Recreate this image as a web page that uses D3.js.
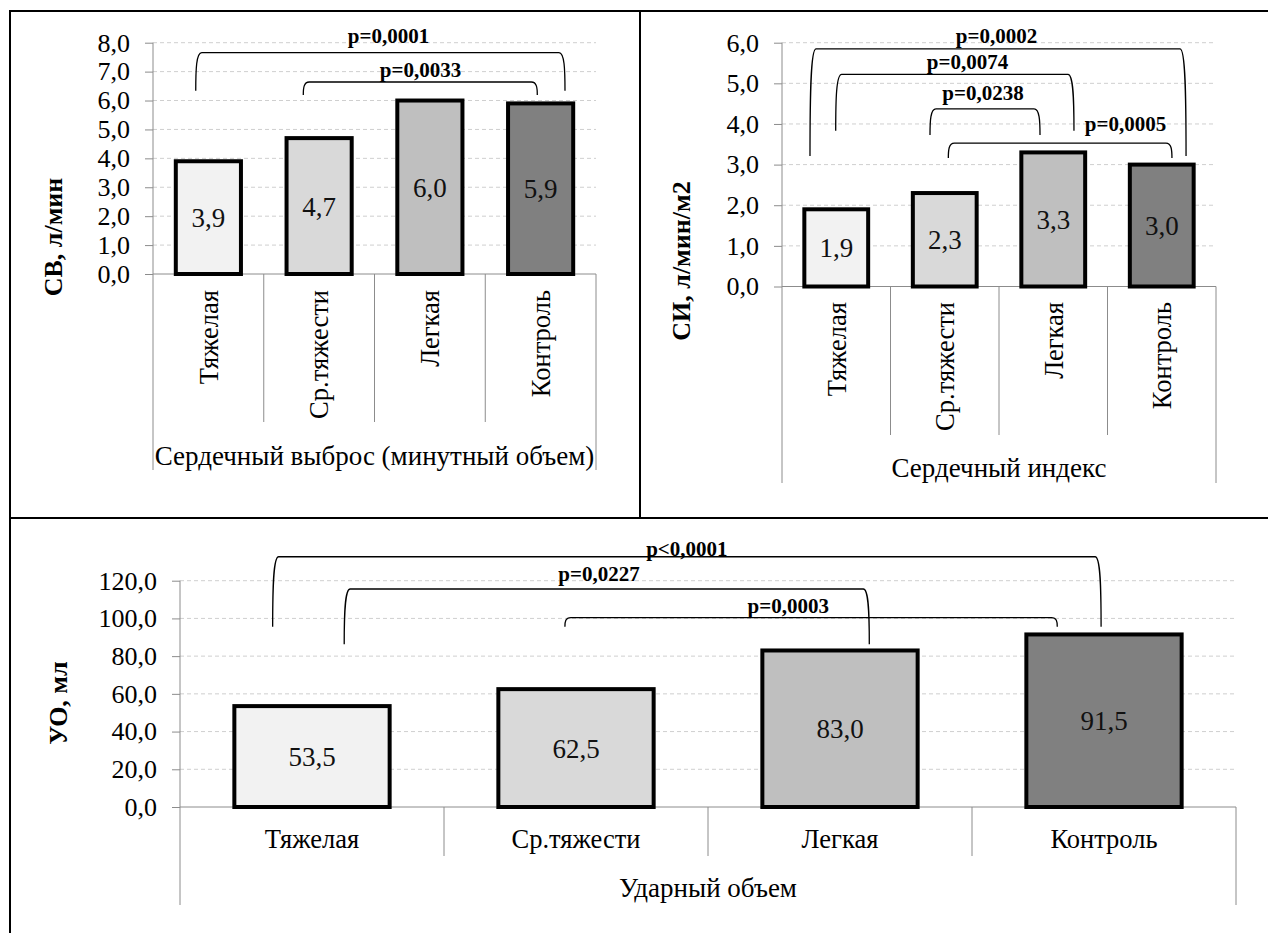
<!DOCTYPE html>
<html>
<head>
<meta charset="utf-8">
<script src="https://cdn.jsdelivr.net/npm/d3@7/dist/d3.min.js"></script>
<style>
  body { margin: 0; background: #fff; }
  svg text { font-family: 'Liberation Serif', 'DejaVu Serif', serif; }
</style>
</head>
<body>
<div id="chart"></div>
<script>
// Group labels (same for the three panels)
const categories = ['Тяжелая', 'Ср.тяжести', 'Легкая', 'Контроль'];
const barColors = ['#f2f2f2', '#d9d9d9', '#bfbfbf', '#808080'];

// Panel values
const cvValues = [3.9, 4.7, 6.0, 5.9];      // СВ, л/мин
const ciValues = [1.9, 2.3, 3.3, 3.0];      // СИ, л/мин/м2
const uoValues = [53.5, 62.5, 83.0, 91.5];  // УО, мл

// Y ticks
const cvTicks = [0, 1, 2, 3, 4, 5, 6, 7, 8];
const ciTicks = [0, 1, 2, 3, 4, 5, 6];
const uoTicks = [0, 20, 40, 60, 80, 100, 120];

// Significance brackets: ends in band units, heights in data units
const cvBrackets = [
  { label: 'p=0,0001', from: 0.386, to: 3.72, top: 7.66, foot: 6.34, lx: 2.126, ly: 7.99 },
  { label: 'p=0,0033', from: 1.357, to: 3.47, top: 6.64, foot: 6.19, lx: 2.415, ly: 6.83 }
];
const ciBrackets = [
  { label: 'p=0,0002', from: 0.258, to: 3.724, top: 5.85, foot: 3.21, lx: 1.977, ly: 6.0 },
  { label: 'p=0,0074', from: 0.495, to: 2.691, top: 5.22, foot: 3.83, lx: 1.71, ly: 5.35 },
  { label: 'p=0,0238', from: 1.364, to: 2.378, top: 4.37, foot: 3.73, lx: 1.853, ly: 4.59 },
  { label: 'p=0,0005', from: 1.533, to: 3.594, top: 3.53, foot: 3.16, lx: 3.166, ly: 3.83 }
];
const uoBrackets = [
  { label: 'p<0,0001', from: 0.351, to: 3.489, top: 132.7, foot: 95.6, lx: 1.92, ly: 132.9 },
  { label: 'p=0,0227', from: 0.622, to: 2.611, top: 115.6, foot: 86.3, lx: 1.587, ly: 120 },
  { label: 'p=0,0003', from: 1.458, to: 3.323, top: 100.4, foot: 95.6, lx: 2.304, ly: 102.7 }
];

const width = 1276, height = 933;
const serif = "'Liberation Serif', 'DejaVu Serif', serif";
const fmt = v => d3.format('.1f')(v).replace('.', ',');

const svg = d3.select('#chart')
  .append('svg')
  .attr('width', width)
  .attr('height', height)
  .attr('font-family', serif)
  .style('display', 'block');

// table frame around the three panels
const frame = svg.append('g').attr('stroke', '#000').attr('stroke-width', 2);
frame.append('line').attr('x1', 9).attr('x2', 1268).attr('y1', 11).attr('y2', 11);
frame.append('line').attr('x1', 10).attr('x2', 10).attr('y1', 11).attr('y2', height);
frame.append('line').attr('x1', 640).attr('x2', 640).attr('y1', 11).attr('y2', 518);
frame.append('line').attr('x1', 9).attr('x2', 1268).attr('y1', 518).attr('y2', 518);

function bracketPath(x1, x2, yt, yf) {
  const r = 6, k = (yf - yt) * 0.45;
  const p = d3.path();
  p.moveTo(x1, yf);
  p.bezierCurveTo(x1, yt + k, x1 + 0.5, yt, x1 + r, yt);
  p.lineTo(x2 - r, yt);
  p.bezierCurveTo(x2 - 0.5, yt, x2, yt + k, x2, yf);
  return p.toString();
}

function drawChart(cfg) {
  const g = svg.append('g').attr('font-family', serif);
  const x = d3.scaleBand().domain(categories).range([cfg.left, cfg.right]);
  const y = d3.scaleLinear().domain([0, cfg.ticks[cfg.ticks.length - 1]]).range([cfg.bottom, cfg.top]);
  const xu = u => cfg.left + u * x.step();
  const barW = x.bandwidth() / 1.7;

  // gridlines
  g.append('g')
    .selectAll('line')
    .data(cfg.ticks.filter(t => t > 0))
    .join('line')
    .attr('x1', cfg.left).attr('x2', cfg.right)
    .attr('y1', d => y(d)).attr('y2', d => y(d))
    .attr('stroke', '#cfcfcf')
    .attr('stroke-dasharray', '4,3');

  // y axis
  const yAxis = g.append('g')
    .attr('transform', `translate(${cfg.left},0)`)
    .call(d3.axisLeft(y).tickValues(cfg.ticks).tickFormat(fmt).tickSize(8).tickPadding(15).tickSizeOuter(0));
  yAxis.attr('font-family', serif).attr('font-size', 26);
  yAxis.select('.domain').remove();
  yAxis.selectAll('line').attr('stroke', '#8c8c8c');
  yAxis.selectAll('text').attr('fill', '#000');

  // axis frame: vertical axis line, baseline, band dividers
  const ax = g.append('g').attr('stroke', '#8c8c8c').attr('stroke-width', 1);
  ax.append('line').attr('x1', cfg.left).attr('x2', cfg.left).attr('y1', y.range()[1]).attr('y2', cfg.outerBottom);
  ax.append('line').attr('x1', cfg.right).attr('x2', cfg.right).attr('y1', cfg.bottom).attr('y2', cfg.outerBottom);
  ax.append('line').attr('x1', cfg.left).attr('x2', cfg.right).attr('y1', cfg.bottom).attr('y2', cfg.bottom);
  ax.selectAll('.div')
    .data(categories.slice(1))
    .join('line')
    .attr('x1', d => x(d)).attr('x2', d => x(d))
    .attr('y1', cfg.bottom).attr('y2', cfg.divBottom);

  // bars
  g.append('g')
    .selectAll('rect')
    .data(cfg.values)
    .join('rect')
    .attr('x', (d, i) => x(categories[i]) + (x.bandwidth() - barW) / 2)
    .attr('y', d => y(d))
    .attr('width', barW)
    .attr('height', d => y(0) - y(d))
    .attr('fill', (d, i) => barColors[i])
    .attr('stroke', '#000')
    .attr('stroke-width', 4);

  // value labels
  g.append('g')
    .selectAll('text')
    .data(cfg.values)
    .join('text')
    .attr('x', (d, i) => x(categories[i]) + x.bandwidth() / 2)
    .attr('y', d => (y(d) + y(0)) / 2)
    .attr('dy', '0.35em')
    .attr('text-anchor', 'middle')
    .attr('font-size', 27)
    .attr('fill', '#111')
    .text(fmt);

  // category labels
  const cat = g.append('g')
    .selectAll('text')
    .data(categories)
    .join('text')
    .attr('font-size', 26.5)
    .attr('fill', '#000')
    .text(d => d);
  if (cfg.rotate) {
    cat.attr('text-anchor', 'end')
      .attr('transform', d => `translate(${x(d) + x.bandwidth() / 2},${cfg.catY}) rotate(-90)`)
      .attr('dy', '0.35em');
  } else {
    cat.attr('text-anchor', 'middle')
      .attr('x', d => x(d) + x.bandwidth() / 2)
      .attr('y', cfg.catY);
  }

  // group title under the categories
  g.append('text')
    .attr('x', (cfg.left + cfg.right) / 2)
    .attr('y', cfg.titleY)
    .attr('text-anchor', 'middle')
    .attr('font-size', 27)
    .attr('fill', '#000')
    .text(cfg.title);

  // y axis title
  g.append('text')
    .attr('transform', `translate(${cfg.yTitle[0]},${cfg.yTitle[1]}) rotate(-90)`)
    .attr('text-anchor', 'middle')
    .attr('dy', '0.35em')
    .attr('font-size', 26)
    .attr('font-weight', 'bold')
    .attr('fill', '#000')
    .text(cfg.yLabel);

  // significance brackets
  const br = g.append('g');
  br.selectAll('path')
    .data(cfg.brackets)
    .join('path')
    .attr('d', d => bracketPath(xu(d.from), xu(d.to), y(d.top), y(d.foot)))
    .attr('fill', 'none')
    .attr('stroke', '#000')
    .attr('stroke-width', 1.3);
  br.selectAll('text')
    .data(cfg.brackets)
    .join('text')
    .attr('x', d => xu(d.lx))
    .attr('y', d => y(d.ly))
    .attr('text-anchor', 'middle')
    .attr('font-size', 21)
    .attr('font-weight', 'bold')
    .attr('fill', '#000')
    .text(d => d.label);
}

drawChart({
  values: cvValues, ticks: cvTicks, brackets: cvBrackets,
  left: 153, right: 596, top: 42.7, bottom: 274,
  rotate: true, catY: 290, divBottom: 422, outerBottom: 470, titleY: 465,
  title: 'Сердечный выброс (минутный объем)',
  yLabel: 'СВ, л/мин', yTitle: [53, 237]
});

drawChart({
  values: ciValues, ticks: ciTicks, brackets: ciBrackets,
  left: 782, right: 1216, top: 42.7, bottom: 286.5,
  rotate: true, catY: 302, divBottom: 435, outerBottom: 483, titleY: 477,
  title: 'Сердечный индекс',
  yLabel: 'СИ, л/мин/м2', yTitle: [681, 261]
});

drawChart({
  values: uoValues, ticks: uoTicks, brackets: uoBrackets,
  left: 180, right: 1236, top: 580.7, bottom: 807,
  rotate: false, catY: 848, divBottom: 856, outerBottom: 905, titleY: 897,
  title: 'Ударный объем',
  yLabel: 'УО, мл', yTitle: [57.5, 703]
});
</script>
</body>
</html>
